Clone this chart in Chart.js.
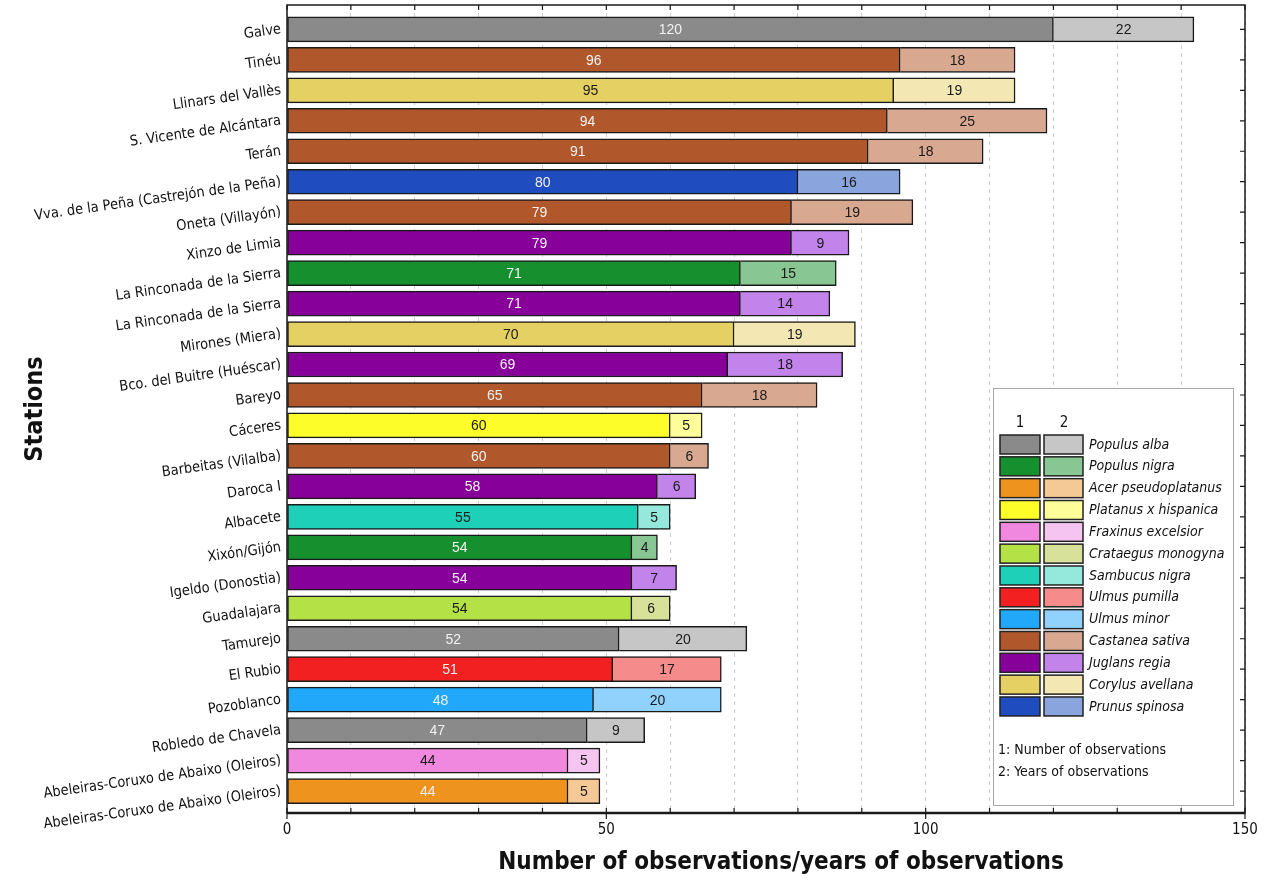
<!DOCTYPE html>
<html>
<head>
<meta charset="utf-8">
<script src="https://cdn.jsdelivr.net/npm/chart.js@4.4.0/dist/chart.umd.min.js"></script>
<style>
  html, body { margin: 0; padding: 0; background: #fff; }
  #wrap { width: 1278px; height: 882px; }
</style>
</head>
<body>
<div id="wrap"><canvas id="chart" width="1278" height="882"></canvas></div>
<script>
const stations = [
  'Galve', 'Tinéu', 'Llinars del Vallès', 'S. Vicente de Alcántara', 'Terán',
  'Vva. de la Peña (Castrejón de la Peña)', 'Oneta (Villayón)', 'Xinzo de Limia',
  'La Rinconada de la Sierra', 'La Rinconada de la Sierra', 'Mirones (Miera)',
  'Bco. del Buitre (Huéscar)', 'Bareyo', 'Cáceres', 'Barbeitas (Vilalba)', 'Daroca I',
  'Albacete', 'Xixón/Gijón', 'Igeldo (Donostia)', 'Guadalajara', 'Tamurejo', 'El Rubio',
  'Pozoblanco', 'Robledo de Chavela', 'Abeleiras-Coruxo de Abaixo (Oleiros)',
  'Abeleiras-Coruxo de Abaixo (Oleiros)'
];
const observations = [120, 96, 95, 94, 91, 80, 79, 79, 71, 71, 70, 69, 65, 60, 60, 58, 55, 54, 54, 54, 52, 51, 48, 47, 44, 44];
const years = [22, 18, 19, 25, 18, 16, 19, 9, 15, 14, 19, 18, 18, 5, 6, 6, 5, 4, 7, 6, 20, 17, 20, 9, 5, 5];
// index into species[] for each station
const stationSpecies = [0, 9, 11, 9, 9, 12, 9, 10, 1, 10, 11, 10, 9, 3, 9, 10, 6, 1, 10, 5, 0, 7, 8, 0, 4, 2];

const species = [
  'Populus alba', 'Populus nigra', 'Acer pseudoplatanus', 'Platanus x hispanica',
  'Fraxinus excelsior', 'Crataegus monogyna', 'Sambucus nigra', 'Ulmus pumilla',
  'Ulmus minor', 'Castanea sativa', 'Juglans regia', 'Corylus avellana', 'Prunus spinosa'
];
const darkColors = ['#8a8a8a', '#16902e', '#ef931f', '#fdfd2a', '#f088df', '#b4e145', '#1fd0b8',
  '#f22020', '#22a8fa', '#b0582c', '#87009a', '#e5d063', '#1f4dbf'];
const lightColors = ['#c6c6c6', '#88c793', '#f5c995', '#fdfd9a', '#f6c4f0', '#d7e19a', '#94e8dc',
  '#f58b8b', '#90d2fb', '#d8a891', '#c283ea', '#f3e8b3', '#8aa4dd'];
const valueTextColors = ['#f2f2f2', '#f2f2f2', '#f2f2f2', '#1a1a1a', '#1a1a1a', '#1a1a1a', '#1a1a1a',
  '#f2f2f2', '#f2f2f2', '#f2f2f2', '#f2f2f2', '#1a1a1a', '#f2f2f2'];

const xTickLabels = [0, 50, 100, 150];

const NARROW = '"DejaVu Sans Condensed", "Liberation Sans Narrow", sans-serif';
const ARIAL = '"Liberation Sans", Arial, sans-serif';

// value labels, frame, inward ticks and the species legend
const decorPlugin = {
  id: 'decor',
  afterDatasetsDraw(chart) {
    const ctx = chart.ctx;
    const { left, right, top, bottom } = chart.chartArea;
    const xs = chart.scales.x;
    const ys = chart.scales.y;

    // numbers inside the bars
    ctx.save();
    ctx.font = '14px ' + ARIAL;
    ctx.textAlign = 'center';
    ctx.textBaseline = 'middle';
    chart.data.datasets.forEach((ds, d) => {
      const meta = chart.getDatasetMeta(d);
      meta.data.forEach((bar, i) => {
        const val = d === 0 ? observations[i] : years[i];
        ctx.fillStyle = d === 0 ? valueTextColors[stationSpecies[i]] : '#1a1a1a';
        ctx.fillText(String(val), (bar.x + bar.base) / 2, bar.y + 1);
      });
    });
    ctx.restore();

    // frame
    ctx.save();
    ctx.strokeStyle = '#1a1a1a';
    ctx.lineWidth = 1.5;
    ctx.strokeRect(left, top, right - left, bottom - top);
    ctx.lineWidth = 2.5;
    ctx.beginPath();
    ctx.moveTo(left, bottom);
    ctx.lineTo(right, bottom);
    ctx.stroke();

    // ticks pointing inward
    ctx.lineWidth = 1.2;
    ctx.beginPath();
    for (let v = 0; v <= 150; v += 10) {
      const px = xs.getPixelForValue(v);
      ctx.moveTo(px, top);
      ctx.lineTo(px, top + 5);
      ctx.moveTo(px, bottom);
      ctx.lineTo(px, bottom - 5);
      if (v % 50 === 0) {
        ctx.moveTo(px, bottom);
        ctx.lineTo(px, bottom + 6);
      }
    }
    stations.forEach((_, i) => {
      const py = ys.getPixelForValue(i);
      ctx.moveTo(right, py);
      ctx.lineTo(right - 5, py);
    });
    ctx.stroke();
    ctx.restore();

    // legend box
    const bx = right - 252, by = bottom - 425, bw = 240, bh = 417;
    ctx.save();
    ctx.fillStyle = '#ffffff';
    ctx.fillRect(bx, by, bw, bh);
    ctx.strokeStyle = '#a8a8a8';
    ctx.lineWidth = 1;
    ctx.strokeRect(bx + 0.5, by + 0.5, bw, bh);

    ctx.fillStyle = '#111';
    ctx.font = '15px ' + NARROW;
    ctx.textAlign = 'center';
    ctx.textBaseline = 'middle';
    ctx.fillText('1', bx + 27, by + 35);
    ctx.fillText('2', bx + 71, by + 35);

    const rowH = 21.83;
    species.forEach((name, i) => {
      const ry = by + 47 + i * rowH;
      ctx.fillStyle = darkColors[i];
      ctx.fillRect(bx + 7, ry, 40, 19);
      ctx.fillStyle = lightColors[i];
      ctx.fillRect(bx + 51, ry, 39, 19);
      ctx.strokeStyle = '#222';
      ctx.lineWidth = 1.5;
      ctx.strokeRect(bx + 7, ry, 40, 19);
      ctx.strokeRect(bx + 51, ry, 39, 19);
      ctx.fillStyle = '#111';
      ctx.font = 'italic 14px ' + NARROW;
      ctx.textAlign = 'left';
      ctx.fillText(name, bx + 96, ry + 10);
    });

    ctx.font = '14px ' + NARROW;
    ctx.textAlign = 'left';
    ctx.fillText('1: Number of observations', bx + 5, by + 362);
    ctx.fillText('2: Years of observations', bx + 5, by + 384);
    ctx.restore();
  }
};

new Chart(document.getElementById('chart'), {
  type: 'bar',
  data: {
    datasets: [
      {
        label: 'Number of observations',
        data: observations.map((v, i) => ({ x: v, y: i })),
        backgroundColor: stationSpecies.map(s => darkColors[s]),
        borderColor: '#1a1a1a',
        borderWidth: 1.5,
        borderSkipped: false,
        barThickness: 25,
        stack: 'obs'
      },
      {
        label: 'Years of observations',
        data: years.map((v, i) => ({ x: v, y: i })),
        backgroundColor: stationSpecies.map(s => lightColors[s]),
        borderColor: '#1a1a1a',
        borderWidth: 1.5,
        borderSkipped: 'start',
        barThickness: 25,
        stack: 'obs'
      }
    ]
  },
  options: {
    indexAxis: 'y',
    responsive: false,
    animation: false,
    layout: { padding: { top: 5, right: 33, left: 0, bottom: 0 } },
    plugins: {
      legend: { display: false },
      tooltip: { enabled: false }
    },
    scales: {
      x: {
        type: 'linear',
        min: 0,
        max: 150,
        stacked: true,
        ticks: {
          stepSize: 10,
          autoSkip: false,
          maxRotation: 0,
          padding: 8,
          color: '#111',
          font: { family: NARROW, size: 15 },
          callback: v => xTickLabels.includes(v) ? String(v) : ''
        },
        grid: { color: '#cfcfcf', lineWidth: 1, drawTicks: false, borderDash: [4, 4] },
        border: { display: false, dash: [4, 4] },
        title: {
          display: true,
          text: '    Number of observations/years of observations',
          color: '#111',
          font: { family: NARROW, size: 24, weight: 'bold' },
          padding: { top: 0, bottom: 5 }
        },
        afterFit: s => { s.height = 69; }
      },
      y: {
        type: 'linear',
        reverse: true,
        offset: false,
        min: -0.8,
        max: 25.72,
        afterBuildTicks: s => { s.ticks = stations.map((_, i) => ({ value: i })); },
        ticks: {
          autoSkip: false,
          minRotation: 8,
          maxRotation: 8,
          padding: 6,
          color: '#111',
          font: { family: NARROW, size: 14.5 },
          callback: v => stations[v]
        },
        grid: { display: false, drawTicks: false, offset: false },
        border: { display: false },
        title: {
          display: true,
          text: 'Stations',
          color: '#111',
          font: { family: NARROW, size: 25, weight: 'bold' },
          padding: { top: 20, bottom: 0 }
        },
        afterFit: s => { s.width = 287; s.paddingTop = 0; s.paddingBottom = 0; }
      }
    }
  },
  plugins: [decorPlugin]
});
</script>
</body>
</html>
